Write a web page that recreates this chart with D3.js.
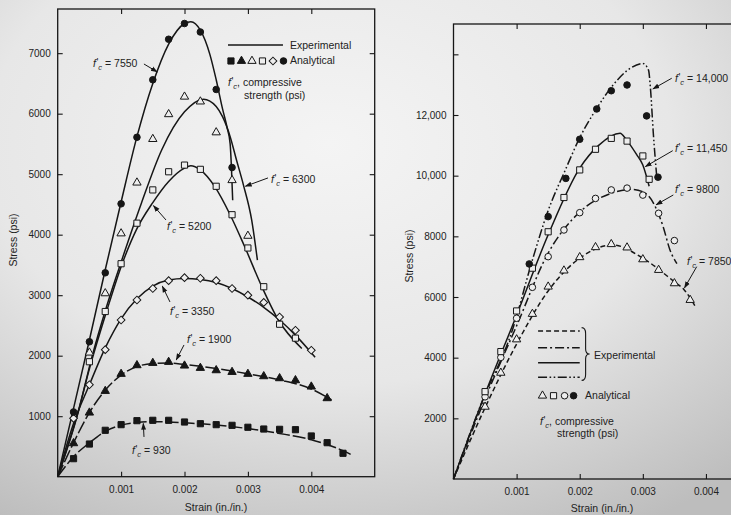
<!DOCTYPE html>
<html>
<head>
<meta charset="utf-8">
<script src="https://cdn.jsdelivr.net/npm/d3@7"></script>
<style>
  body { margin: 0; background: #e6e6e6; }
  svg { display: block; font-family: "Liberation Sans", Arial, sans-serif; }
</style>
</head>
<body>
<div id="chart"></div>
<script>
// ---------- data (strain in./in., stress psi) ----------
var strainTicks = [0.001, 0.002, 0.003, 0.004];
var leftStressTicks = [1000, 2000, 3000, 4000, 5000, 6000, 7000];
var rightStressTicks = [2000, 4000, 6000, 8000, 10000, 12000, 14000];

// left panel, experimental curves
var exp7550 = [[0,0],[0.00025,1130],[0.0005,2260],[0.00075,3420],[0.001,4540],[0.00125,5620],[0.0015,6500],[0.00175,7150],[0.002,7490],[0.0021,7520],[0.00225,7380],[0.0024,6980],[0.0025,6560],[0.0026,6080],[0.00267,5780],[0.00272,5500],[0.00274,5120],[0.00276,4570]];
var exp6300 = [[0,0],[0.00032,1050],[0.00054,1980],[0.00077,2810],[0.00103,3640],[0.00132,4520],[0.00164,5400],[0.002,6030],[0.0023,6240],[0.0025,6120],[0.0026,5950],[0.00272,5620],[0.00282,5235],[0.00293,4820],[0.00306,4240],[0.00315,3580]];
var exp5200 = [[0,0],[0.0003,990],[0.00051,1820],[0.00077,2730],[0.00101,3500],[0.00124,4080],[0.0015,4530],[0.00175,4880],[0.002,5100],[0.0021,5140],[0.00225,5070],[0.00248,4790],[0.00272,4330],[0.00295,3800],[0.00322,3140],[0.00348,2590],[0.00385,2120]];
var exp3350 = [[0,0],[0.00025,880],[0.0005,1520],[0.00075,2130],[0.001,2610],[0.00125,2940],[0.0015,3150],[0.00175,3250],[0.002,3275],[0.00225,3260],[0.0025,3210],[0.00275,3110],[0.003,2970],[0.00325,2800],[0.0035,2590],[0.00375,2340],[0.00406,1975]];
var exp1900 = [[0,0],[0.00025,560],[0.0005,1060],[0.00075,1430],[0.001,1680],[0.00125,1820],[0.0015,1870],[0.00175,1880],[0.002,1855],[0.0025,1790],[0.003,1700],[0.0035,1600],[0.004,1450],[0.00432,1268]];
var exp930 = [[0,0],[0.00025,330],[0.0005,560],[0.00075,750],[0.001,850],[0.00125,895],[0.0015,910],[0.00175,905],[0.002,890],[0.0025,855],[0.003,795],[0.0035,715],[0.004,610],[0.0045,430],[0.00464,360]];

// left panel, analytical points
var ana7550 = [[0.00025,1070],[0.0005,2230],[0.00075,3370],[0.001,4510],[0.00125,5610],[0.0015,6560],[0.00175,7230],[0.002,7490],[0.00225,7350],[0.0025,6400],[0.00275,5110]];
var ana6300 = [[0.0005,2050],[0.00075,3030],[0.001,4020],[0.00125,4860],[0.0015,5580],[0.00175,5990],[0.002,6280],[0.00225,6200],[0.0025,5690],[0.00275,4900],[0.003,3980]];
var ana5200 = [[0.0005,1900],[0.00075,2730],[0.001,3520],[0.00125,4190],[0.0015,4740],[0.00175,5040],[0.002,5150],[0.00225,5080],[0.0025,4800],[0.00275,4330],[0.003,3780],[0.00325,3140],[0.0035,2520],[0.00375,2290]];
var ana3350 = [[0.00025,965],[0.0005,1520],[0.00075,2100],[0.001,2590],[0.00125,2920],[0.0015,3110],[0.00175,3240],[0.002,3290],[0.00225,3280],[0.0025,3240],[0.00275,3110],[0.003,3000],[0.00325,2880],[0.0035,2640],[0.00375,2420],[0.004,2090]];
var ana1900 = [[0.00025,552],[0.0005,1058],[0.00075,1416],[0.001,1698],[0.00125,1841],[0.0015,1879],[0.00175,1896],[0.002,1835],[0.00225,1797],[0.0025,1758],[0.00275,1730],[0.003,1698],[0.00325,1659],[0.0035,1626],[0.00375,1593],[0.004,1488],[0.00425,1296]];
var ana930 = [[0.00025,298],[0.0005,540],[0.00075,767],[0.001,860],[0.00125,926],[0.0015,932],[0.00175,932],[0.002,904],[0.00225,876],[0.0025,860],[0.00275,849],[0.003,817],[0.00325,788],[0.0035,783],[0.00375,777],[0.004,673],[0.00425,562],[0.0045,387]];

// right panel, experimental curves
var exp14000 = [[0,0],[0.00042,2380],[0.00095,5020],[0.00124,7150],[0.0015,8850],[0.00177,10180],[0.002,11250],[0.00227,12220],[0.00253,12990],[0.0028,13540],[0.003,13700],[0.00309,13480],[0.00312,12900],[0.003166,11400],[0.00322,9970]];
var exp11450 = [[0,0],[0.0005,2800],[0.001,5400],[0.0015,8050],[0.002,10250],[0.0023,11000],[0.00264,11400],[0.00274,11180],[0.0029,10700],[0.003,10350],[0.0031,9650]];
var exp9800 = [[0,0],[0.0005,2650],[0.001,5050],[0.0015,7450],[0.002,8800],[0.0025,9420],[0.00282,9550],[0.003,9470],[0.00317,9090],[0.00332,8330],[0.00343,7550],[0.00354,7100]];
var exp7850 = [[0,0],[0.0005,2350],[0.001,4450],[0.0015,6200],[0.002,7280],[0.00253,7715],[0.003,7280],[0.0035,6500],[0.00365,6250],[0.00384,5660]];

// right panel, analytical points
var ana14000 = [[0.0012,7090],[0.0015,8650],[0.00178,9910],[0.002,11200],[0.00227,12200],[0.0025,12800],[0.00275,12990],[0.00306,11970],[0.00324,9950]];
var ana11450 = [[0.0005,2880],[0.00075,4200],[0.001,5540],[0.00125,6950],[0.0015,8150],[0.00175,9280],[0.002,10190],[0.00225,10870],[0.0025,11230],[0.00275,11140],[0.003,10650],[0.0031,9880]];
var ana9800 = [[0.0005,2710],[0.00075,4010],[0.001,5300],[0.00125,6320],[0.0015,7330],[0.00175,8210],[0.002,8780],[0.00225,9250],[0.0025,9530],[0.00275,9590],[0.003,9360],[0.00325,8760],[0.0035,7860]];
var ana7850 = [[0.0005,2380],[0.00075,3500],[0.001,4600],[0.00125,5440],[0.0015,6340],[0.00175,6870],[0.002,7310],[0.00225,7640],[0.0025,7740],[0.00275,7630],[0.003,7240],[0.00325,6890],[0.0035,6450],[0.00375,5900]];

// ---------- drawing ----------
var W = 731, H = 515;
var ink = "#161616";
var openFill = "#eeeeee";

var svg = d3.select("#chart").append("svg")
  .attr("width", W)
  .attr("height", H);

// scanned-paper background
var defs = svg.append("defs");
var grad = defs.append("radialGradient").attr("id", "paper")
  .attr("cx", "45%").attr("cy", "28%").attr("r", "85%");
grad.append("stop").attr("offset", "0%").attr("stop-color", "#f4f4f4");
grad.append("stop").attr("offset", "55%").attr("stop-color", "#e7e7e7");
grad.append("stop").attr("offset", "100%").attr("stop-color", "#bdbdbd");
svg.append("rect").attr("width", W).attr("height", H).attr("fill", "url(#paper)");

defs.append("marker").attr("id", "arrow")
  .attr("viewBox", "0 0 10 10").attr("refX", 9).attr("refY", 5)
  .attr("markerWidth", 7).attr("markerHeight", 7).attr("orient", "auto-start-reverse")
  .attr("markerUnits", "userSpaceOnUse")
  .append("path").attr("d", "M0,1.5 L10,5 L0,8.5 Z").attr("fill", ink);

// scales
var xL = d3.scaleLinear().domain([0, 0.005]).range([57.7, 374.7]);
var yL = d3.scaleLinear().domain([0, 7730]).range([476.7, 9]);
var xR = d3.scaleLinear().domain([0, 0.0045]).range([453.5, 737.5]);
var yR = d3.scaleLinear().domain([0, 15000]).range([479, 24]);

function stressFmt(d) {
  return d >= 10000 ? d3.format(",")(d) : String(d);
}

function drawFrame(x, y, yTicks, yFmt) {
  var g = svg.append("g");
  var x0 = x.range()[0], x1 = x.range()[1], y0 = y.range()[0], y1 = y.range()[1];

  g.append("g").attr("transform", "translate(0," + y0 + ")")
    .call(d3.axisBottom(x).tickValues(strainTicks).tickSize(-5).tickPadding(9)
      .tickFormat(d3.format(".3f")));
  g.append("g").attr("transform", "translate(0," + y1 + ")")
    .call(d3.axisTop(x).tickValues(strainTicks).tickSize(-5).tickFormat(""));
  g.append("g").attr("transform", "translate(" + x0 + ",0)")
    .call(d3.axisLeft(y).tickValues(yTicks).tickSize(-5).tickPadding(7).tickFormat(yFmt));
  g.append("g").attr("transform", "translate(" + x1 + ",0)")
    .call(d3.axisRight(y).tickValues(yTicks).tickSize(-5).tickFormat(""));

  g.selectAll(".domain").remove();
  g.selectAll(".tick line").attr("stroke", ink).attr("stroke-width", 1.1);
  g.selectAll(".tick text").attr("fill", "#222").attr("font-size", 10)
    .attr("font-family", "'Liberation Sans', Arial, sans-serif");

  g.append("rect")
    .attr("x", x0).attr("y", y1)
    .attr("width", x1 - x0).attr("height", y0 - y1)
    .attr("fill", "none").attr("stroke", ink).attr("stroke-width", 1.3);
  return g;
}

drawFrame(xL, yL, leftStressTicks, stressFmt);
drawFrame(xR, yR, rightStressTicks, function(d) { return d === 14000 ? "" : stressFmt(d); });

// axis titles
svg.append("text").attr("x", 216).attr("y", 511).attr("text-anchor", "middle")
  .attr("font-size", 10.5).attr("fill", "#222").text("Strain (in./in.)");
svg.append("text").attr("x", 602).attr("y", 512).attr("text-anchor", "middle")
  .attr("font-size", 10.5).attr("fill", "#222").text("Strain (in./in.)");
svg.append("text").attr("transform", "translate(17,240) rotate(-90)").attr("text-anchor", "middle")
  .attr("font-size", 10.5).attr("fill", "#222").text("Stress (psi)");
svg.append("text").attr("transform", "translate(413,256) rotate(-90)").attr("text-anchor", "middle")
  .attr("font-size", 10.5).attr("fill", "#222").text("Stress (psi)");

// curves
function drawCurve(x, y, pts, dash) {
  var line = d3.line()
    .x(function(d) { return x(d[0]); })
    .y(function(d) { return y(d[1]); })
    .curve(d3.curveMonotoneX);
  svg.append("path").datum(pts)
    .attr("d", line)
    .attr("fill", "none")
    .attr("stroke", ink)
    .attr("stroke-width", 1.5)
    .attr("stroke-dasharray", dash || null);
}

var dashLong = "13,3";
var dashShort = "5,3";
var dashDot = "9,3,2,3";
var dashDotDot = "9,2.5,1.6,2.5,1.6,2.5";

drawCurve(xL, yL, exp7550);
drawCurve(xL, yL, exp6300);
drawCurve(xL, yL, exp5200);
drawCurve(xL, yL, exp3350);
drawCurve(xL, yL, exp1900, dashLong);
drawCurve(xL, yL, exp930, dashLong);

drawCurve(xR, yR, exp14000, dashDotDot);
drawCurve(xR, yR, exp11450);
drawCurve(xR, yR, exp9800, dashDot);
drawCurve(xR, yR, exp7850, dashShort);

// markers
var shapes = {
  circle: d3.symbol(d3.symbolCircle, 34),
  square: d3.symbol(d3.symbolSquare, 38),
  triangle: d3.symbol(d3.symbolTriangle, 30),
  diamond: d3.symbol(d3.symbolSquare, 30)
};

function drawMarkers(x, y, pts, shape, filled) {
  svg.append("g").selectAll("path").data(pts).enter().append("path")
    .attr("d", shapes[shape]())
    .attr("transform", function(d) {
      return "translate(" + x(d[0]) + "," + y(d[1]) + ")" + (shape === "diamond" ? " rotate(45)" : "");
    })
    .attr("fill", filled ? ink : openFill)
    .attr("stroke", ink)
    .attr("stroke-width", 1);
}

drawMarkers(xL, yL, ana930, "square", true);
drawMarkers(xL, yL, ana1900, "triangle", true);
drawMarkers(xL, yL, ana3350, "diamond", false);
drawMarkers(xL, yL, ana5200, "square", false);
drawMarkers(xL, yL, ana6300, "triangle", false);
drawMarkers(xL, yL, ana7550, "circle", true);

drawMarkers(xR, yR, ana7850, "triangle", false);
drawMarkers(xR, yR, ana9800, "circle", false);
drawMarkers(xR, yR, ana11450, "square", false);
drawMarkers(xR, yR, ana14000, "circle", true);

// f'c labels: italic f, prime, subscript c
function fcText(px, py, rest) {
  var t = svg.append("text").attr("x", px).attr("y", py)
    .attr("font-size", 10.5).attr("fill", "#222");
  t.append("tspan").attr("font-style", "italic").text("f");
  t.append("tspan").attr("dx", 0.5).attr("dy", -1).attr("font-size", 10).text("'");
  t.append("tspan").attr("dy", 4).attr("font-size", 7.5).attr("font-style", "italic").text("c");
  t.append("tspan").attr("dy", -3).text(rest);
  return t;
}

function arrow(x1, y1, x2, y2) {
  svg.append("line")
    .attr("x1", x1).attr("y1", y1).attr("x2", x2).attr("y2", y2)
    .attr("stroke", ink).attr("stroke-width", 1)
    .attr("marker-end", "url(#arrow)");
}

function callout(x, y, tx, ty, ax1, ay1, ax2, ay2, value) {
  fcText(x(tx), y(ty), " = " + value);
  arrow(x(ax1), y(ay1), x(ax2), y(ay2));
}

callout(xL, yL, 0.000557, 6772, 0.00136, 6821, 0.00157, 6690, "7550");
callout(xL, yL, 0.003364, 4855, 0.003317, 4938, 0.00296, 4800, "6300");
callout(xL, yL, 0.001724, 4077, 0.001708, 4243, 0.00151, 4480, "5200");
callout(xL, yL, 0.001771, 2668, 0.001771, 2888, 0.00165, 3150, "3350");
callout(xL, yL, 0.002039, 2204, 0.001992, 2177, 0.00187, 1930, "1900");
callout(xL, yL, 0.001172, 375, 0.001361, 657, 0.00135, 880, "930");

callout(xR, yR, 0.00351, 13089, 0.003458, 13212, 0.00316, 12860, "14,000");
callout(xR, yR, 0.00351, 10781, 0.003474, 10824, 0.00304, 10300, "11,450");
callout(xR, yR, 0.00351, 9430, 0.003483, 9364, 0.00321, 9040, "9800");
callout(xR, yR, 0.0037, 7056, 0.003854, 7000, 0.00366, 6300, "7850");

// left legend
svg.append("line")
  .attr("x1", xL(0.002686)).attr("x2", xL(0.003553))
  .attr("y1", yL(7136)).attr("y2", yL(7136))
  .attr("stroke", ink).attr("stroke-width", 1.6);
svg.append("text").attr("x", xL(0.003664)).attr("y", yL(7069))
  .attr("font-size", 10.5).attr("fill", "#222").text("Experimental");
var leftKeys = [["square", true], ["triangle", true], ["triangle", false], ["square", false], ["diamond", false], ["circle", true]];
leftKeys.forEach(function(k, i) {
  drawMarkers(xL, yL, [[0.002733 + i * 0.0001656, 6871]], k[0], k[1]);
});
svg.append("text").attr("x", xL(0.003664)).attr("y", yL(6822))
  .attr("font-size", 10.5).attr("fill", "#222").text("Analytical");
fcText(xL(0.002686), yL(6458), ", compressive");
svg.append("text").attr("x", xL(0.002939)).attr("y", yL(6243))
  .attr("font-size", 10.5).attr("fill", "#222").text("strength (psi)");

// right legend
var rightKeyLines = [[4880, dashShort], [4329, dashDot], [3834, null], [3353, dashDotDot]];
rightKeyLines.forEach(function(k) {
  svg.append("line")
    .attr("x1", xR(0.00134)).attr("x2", xR(0.0020))
    .attr("y1", yR(k[0])).attr("y2", yR(k[0]))
    .attr("stroke", ink).attr("stroke-width", 1.5)
    .attr("stroke-dasharray", k[1]);
});
// brace
var bx = xR(0.00203), bt = yR(4990), bb = yR(3250), bm = (bt + bb) / 2;
svg.append("path")
  .attr("d", "M" + bx + "," + bt + " Q" + (bx + 4) + "," + bt + " " + (bx + 4) + "," + (bt + 6) +
    " L" + (bx + 4) + "," + (bm - 5) + " Q" + (bx + 4) + "," + bm + " " + (bx + 8) + "," + bm +
    " Q" + (bx + 4) + "," + bm + " " + (bx + 4) + "," + (bm + 5) +
    " L" + (bx + 4) + "," + (bb - 6) + " Q" + (bx + 4) + "," + bb + " " + bx + "," + bb)
  .attr("fill", "none").attr("stroke", ink).attr("stroke-width", 1.1);
svg.append("text").attr("x", xR(0.002227)).attr("y", yR(3956))
  .attr("font-size", 10.5).attr("fill", "#222").text("Experimental");
var rightKeys = [["triangle", false], ["square", false], ["circle", false], ["circle", true]];
var rightKeyX = [0.00141, 0.001585, 0.00176, 0.001903];
rightKeys.forEach(function(k, i) {
  drawMarkers(xR, yR, [[rightKeyX[i], 2746]], k[0], k[1]);
});
svg.append("text").attr("x", xR(0.002085)).attr("y", yR(2638))
  .attr("font-size", 10.5).attr("fill", "#222").text("Analytical");
fcText(xR(0.001371), yR(1780), ", compressive");
svg.append("text").attr("x", xR(0.00164)).attr("y", yR(1385))
  .attr("font-size", 10.5).attr("fill", "#222").text("strength (psi)");
</script>
</body>
</html>
